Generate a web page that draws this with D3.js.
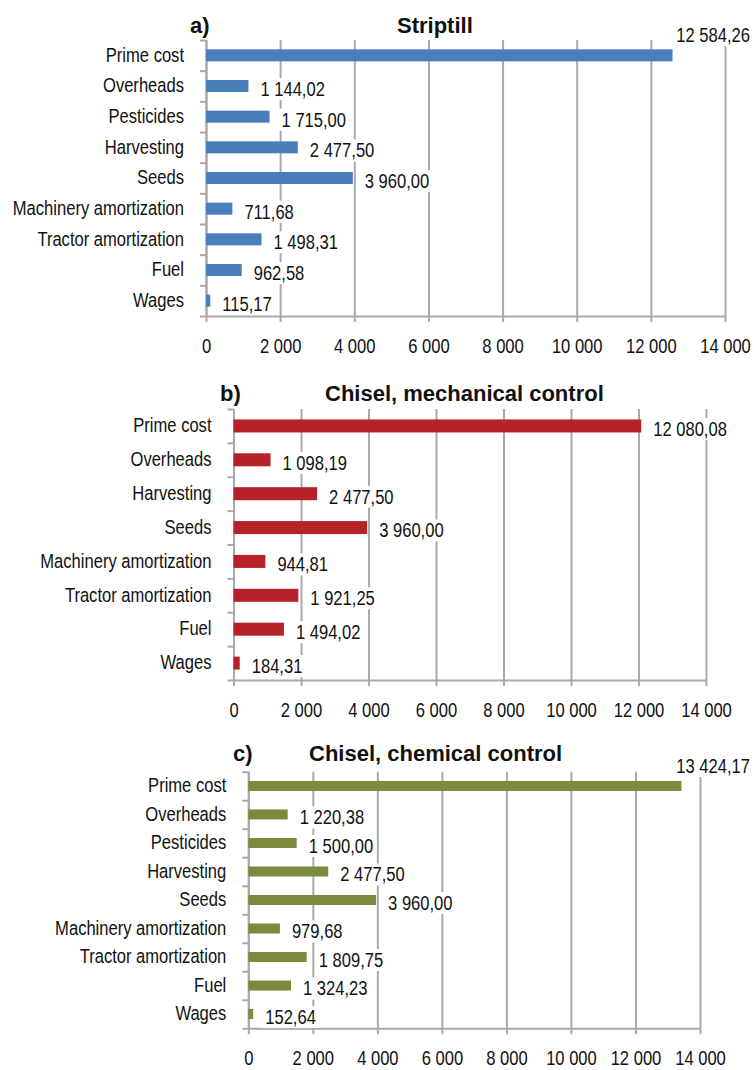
<!DOCTYPE html>
<html>
<head>
<meta charset="utf-8">
<script src="https://cdn.jsdelivr.net/npm/d3@7"></script>
<style>
  html, body { margin: 0; padding: 0; background: #fff; }
  svg { display: block; }
  text { font-family: "Liberation Sans", Arial, sans-serif; fill: #111; }
</style>
</head>
<body>
<svg id="chart" width="754" height="1070"></svg>
<script>
// ---------- data ----------
const categoriesA = ["Prime cost", "Overheads", "Pesticides", "Harvesting", "Seeds",
  "Machinery amortization", "Tractor amortization", "Fuel", "Wages"];
const valuesA = [12584.26, 1144.02, 1715.00, 2477.50, 3960.00, 711.68, 1498.31, 962.58, 115.17];

const categoriesB = ["Prime cost", "Overheads", "Harvesting", "Seeds",
  "Machinery amortization", "Tractor amortization", "Fuel", "Wages"];
const valuesB = [12080.08, 1098.19, 2477.50, 3960.00, 944.81, 1921.25, 1494.02, 184.31];

const categoriesC = ["Prime cost", "Overheads", "Pesticides", "Harvesting", "Seeds",
  "Machinery amortization", "Tractor amortization", "Fuel", "Wages"];
const valuesC = [13424.17, 1220.38, 1500.00, 2477.50, 3960.00, 979.68, 1809.75, 1324.23, 152.64];

const xTicks = [0, 2000, 4000, 6000, 8000, 10000, 12000, 14000];
const panelLetters = ["a)", "b)", "c)"];
const panelTitles = ["Striptill", "Chisel, mechanical control", "Chisel, chemical control"];

// ---------- layout ----------
const W = 754;
const SX = 0.85;          // horizontal condensing for the narrow font look
const FS = 19.5;
const GRID = "#a7a9ac";
const layouts = [
  { x0: 206, x1: 725, top: 40, bottom: 316, barH: 12, color: "#4a7ebb", letterX: 190, titleX: 397, titleY: 33 },
  { x0: 233.5, x1: 706, top: 409, bottom: 680, barH: 13, color: "#b52228", letterX: 220, titleX: 325, titleY: 401 },
  { x0: 248.3, x1: 700, top: 771.7, bottom: 1028.3, barH: 10, color: "#7a8b3e", letterX: 233, titleX: 309, titleY: 761 }
];
const panels = [
  { cats: categoriesA, vals: valuesA },
  { cats: categoriesB, vals: valuesB },
  { cats: categoriesC, vals: valuesC }
];

const loc = d3.formatLocale({ decimal: ",", thousands: " ", grouping: [3], currency: ["", ""] });
const fmtVal = loc.format(",.2f");
const fmtTick = loc.format(",");

const svg = d3.select("#chart");

panels.forEach((p, i) => {
  const L = layouts[i];
  const n = p.cats.length;
  const g = svg.append("g");

  const x = d3.scaleLinear().domain([0, 14000]).range([L.x0, L.x1]);
  const step = (L.bottom - L.top) / n;
  const pad = 1 - L.barH / step;
  const y = d3.scaleBand().domain(p.cats).range([L.top, L.bottom])
    .paddingInner(pad).paddingOuter(pad / 2);
  const yEdges = d3.scaleLinear().domain([0, n]).range([L.top, L.bottom]);

  // gridlines
  const grid = g.append("g").attr("transform", `translate(0,${L.bottom})`)
    .call(d3.axisBottom(x).tickValues(xTicks).tickSize(-(L.bottom - L.top)).tickFormat(""));
  grid.select(".domain").remove();
  grid.selectAll(".tick line").attr("stroke", GRID).attr("stroke-width", 2);

  // x axis
  const xa = g.append("g").attr("transform", `translate(0,${L.bottom})`)
    .call(d3.axisBottom(x).tickValues(xTicks).tickSizeInner(6).tickSizeOuter(0)
      .tickPadding(17).tickFormat(fmtTick));
  xa.select(".domain").attr("stroke", GRID).attr("stroke-width", 2);
  xa.selectAll(".tick line").attr("stroke", GRID).attr("stroke-width", 2);
  xa.selectAll(".tick text")
    .attr("font-size", FS).attr("font-family", "Liberation Sans, Arial, sans-serif")
    .attr("fill", "#111")
    .attr("transform", `scale(${SX},1)`);

  // y axis (ticks at category boundaries)
  const ya = g.append("g").attr("transform", `translate(${L.x0},0)`)
    .call(d3.axisLeft(yEdges).tickValues(d3.range(n + 1)).tickSizeInner(6).tickSizeOuter(0).tickFormat(""));
  ya.select(".domain").attr("stroke", GRID).attr("stroke-width", 2);
  ya.selectAll(".tick line").attr("stroke", GRID).attr("stroke-width", 2);

  // category labels
  const yl = g.append("g").attr("transform", `translate(${L.x0},0)`)
    .call(d3.axisLeft(y).tickSize(0).tickPadding(22));
  yl.select(".domain").remove();
  yl.selectAll(".tick text")
    .attr("font-size", FS).attr("font-family", "Liberation Sans, Arial, sans-serif")
    .attr("fill", "#111")
    .attr("x", null)
    .attr("transform", `translate(-22,0) scale(${SX},1)`);

  // value labels with white boxes
  const labels = g.append("g");
  p.vals.forEach((v, k) => {
    const c = p.cats[k];
    const yc = y(c) + y.bandwidth() / 2;
    const end = x(v);
    const lg = labels.append("g");
    const rect = lg.append("rect").attr("fill", "#fff");
    const t = lg.append("text").text(fmtVal(v)).attr("font-size", FS).attr("dy", "0.35em");
    const w = t.node().getComputedTextLength() * SX;
    let lx, ly;
    if (end + 12 + w > W) {
      lx = Math.min(end + 4, W - w - 4);
      ly = yc - 20;
    } else {
      lx = end + 12;
      ly = yc + 3;
    }
    t.attr("transform", `translate(${lx},${ly}) scale(${SX},1)`);
    rect.attr("x", lx - 3).attr("y", ly - 11).attr("width", w + 6).attr("height", 22);
  });

  // bars
  g.append("g").selectAll("rect").data(p.vals).join("rect")
    .attr("x", x(0))
    .attr("y", (d, k) => y(p.cats[k]))
    .attr("width", d => x(d) - x(0))
    .attr("height", y.bandwidth())
    .attr("fill", L.color);

  // raise value labels above gridlines (already), keep them above bars
  labels.raise();

  // titles
  g.append("text").attr("x", L.letterX).attr("y", L.titleY)
    .attr("font-size", 22).attr("font-weight", "bold").text(panelLetters[i]);
  g.append("text").attr("x", L.titleX).attr("y", L.titleY)
    .attr("font-size", 22).attr("font-weight", "bold").text(panelTitles[i]);
});
</script>
</body>
</html>
